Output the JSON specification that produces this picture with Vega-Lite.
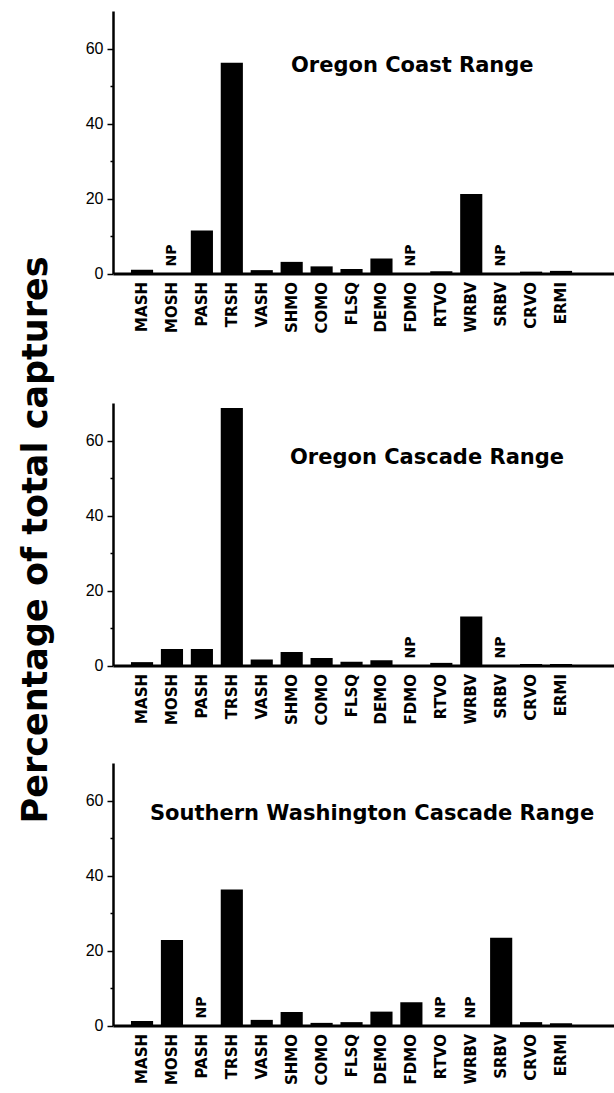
{
  "$schema": "https://vega.github.io/schema/vega-lite/v6.json",
  "padding": {"left": 19, "top": 11, "right": 0, "bottom": 5},
  "background": "white",
  "title": {"text": "Percentage of total captures", "orient": "left", "anchor": "middle", "font": "DejaVu Sans", "fontSize": 35, "fontWeight": "bold", "color": "black", "offset": 31, "dx": 8},
  "datasets": {
    "captures": [
      {"region": "Oregon Coast Range", "species": "MASH", "value": 1.0, "status": ""},
      {"region": "Oregon Coast Range", "species": "MOSH", "value": null, "status": "NP"},
      {"region": "Oregon Coast Range", "species": "PASH", "value": 11.5, "status": ""},
      {"region": "Oregon Coast Range", "species": "TRSH", "value": 56.2, "status": ""},
      {"region": "Oregon Coast Range", "species": "VASH", "value": 0.9, "status": ""},
      {"region": "Oregon Coast Range", "species": "SHMO", "value": 3.1, "status": ""},
      {"region": "Oregon Coast Range", "species": "COMO", "value": 1.9, "status": ""},
      {"region": "Oregon Coast Range", "species": "FLSQ", "value": 1.2, "status": ""},
      {"region": "Oregon Coast Range", "species": "DEMO", "value": 4.0, "status": ""},
      {"region": "Oregon Coast Range", "species": "FDMO", "value": null, "status": "NP"},
      {"region": "Oregon Coast Range", "species": "RTVO", "value": 0.6, "status": ""},
      {"region": "Oregon Coast Range", "species": "WRBV", "value": 21.2, "status": ""},
      {"region": "Oregon Coast Range", "species": "SRBV", "value": null, "status": "NP"},
      {"region": "Oregon Coast Range", "species": "CRVO", "value": 0.5, "status": ""},
      {"region": "Oregon Coast Range", "species": "ERMI", "value": 0.7, "status": ""},
      {"region": "Oregon Cascade Range", "species": "MASH", "value": 0.9, "status": ""},
      {"region": "Oregon Cascade Range", "species": "MOSH", "value": 4.4, "status": ""},
      {"region": "Oregon Cascade Range", "species": "PASH", "value": 4.4, "status": ""},
      {"region": "Oregon Cascade Range", "species": "TRSH", "value": 68.7, "status": ""},
      {"region": "Oregon Cascade Range", "species": "VASH", "value": 1.6, "status": ""},
      {"region": "Oregon Cascade Range", "species": "SHMO", "value": 3.6, "status": ""},
      {"region": "Oregon Cascade Range", "species": "COMO", "value": 2.0, "status": ""},
      {"region": "Oregon Cascade Range", "species": "FLSQ", "value": 1.0, "status": ""},
      {"region": "Oregon Cascade Range", "species": "DEMO", "value": 1.4, "status": ""},
      {"region": "Oregon Cascade Range", "species": "FDMO", "value": null, "status": "NP"},
      {"region": "Oregon Cascade Range", "species": "RTVO", "value": 0.7, "status": ""},
      {"region": "Oregon Cascade Range", "species": "WRBV", "value": 13.1, "status": ""},
      {"region": "Oregon Cascade Range", "species": "SRBV", "value": null, "status": "NP"},
      {"region": "Oregon Cascade Range", "species": "CRVO", "value": 0.4, "status": ""},
      {"region": "Oregon Cascade Range", "species": "ERMI", "value": 0.4, "status": ""},
      {"region": "Southern Washington Cascade Range", "species": "MASH", "value": 1.2, "status": ""},
      {"region": "Southern Washington Cascade Range", "species": "MOSH", "value": 22.8, "status": ""},
      {"region": "Southern Washington Cascade Range", "species": "PASH", "value": null, "status": "NP"},
      {"region": "Southern Washington Cascade Range", "species": "TRSH", "value": 36.3, "status": ""},
      {"region": "Southern Washington Cascade Range", "species": "VASH", "value": 1.5, "status": ""},
      {"region": "Southern Washington Cascade Range", "species": "SHMO", "value": 3.6, "status": ""},
      {"region": "Southern Washington Cascade Range", "species": "COMO", "value": 0.7, "status": ""},
      {"region": "Southern Washington Cascade Range", "species": "FLSQ", "value": 0.9, "status": ""},
      {"region": "Southern Washington Cascade Range", "species": "DEMO", "value": 3.7, "status": ""},
      {"region": "Southern Washington Cascade Range", "species": "FDMO", "value": 6.2, "status": ""},
      {"region": "Southern Washington Cascade Range", "species": "RTVO", "value": null, "status": "NP"},
      {"region": "Southern Washington Cascade Range", "species": "WRBV", "value": null, "status": "NP"},
      {"region": "Southern Washington Cascade Range", "species": "SRBV", "value": 23.4, "status": ""},
      {"region": "Southern Washington Cascade Range", "species": "CRVO", "value": 0.9, "status": ""},
      {"region": "Southern Washington Cascade Range", "species": "ERMI", "value": 0.6, "status": ""}
    ]
  },
  "spacing": 129,
  "bounds": "flush",
  "vconcat": [
    {
      "title": {"text": "Oregon Coast Range", "frame": "group", "anchor": "start", "dx": 178, "offset": -65, "baseline": "top", "font": "DejaVu Sans", "fontSize": 21, "fontWeight": "bold", "color": "black"},
      "width": 501, "height": 262.5,
      "data": {"name": "captures"},
      "transform": [{"filter": "datum.region === 'Oregon Coast Range'"}],
      "layer": [
        {"mark": {"type": "bar", "color": "black"},
         "encoding": {
           "x": {"field": "species", "type": "nominal", "sort": null,
                 "scale": {"domain": ["MASH","MOSH","PASH","TRSH","VASH","SHMO","COMO","FLSQ","DEMO","FDMO","RTVO","WRBV","SRBV","CRVO","ERMI"], "paddingInner": 0.26, "paddingOuter": 2.61, "align": 0.3},
                 "axis": {"title": null, "labelAngle": -90, "ticks": false, "labelPadding": 8, "labelFont": "DejaVu Sans", "labelFontWeight": "bold", "labelFontSize": 15, "labelColor": "black", "domainWidth": 3, "domainColor": "black"}},
           "y": {"field": "value", "type": "quantitative", "scale": {"domain": [0, 70], "nice": false},
                 "axis": {"title": null, "grid": false, "values": [0,10,20,30,40,50,60], "labelExpr": "datum.value % 20 === 0 ? datum.label : ''", "tickSize": {"condition": {"test": "datum.value % 20 !== 0", "value": 3}, "value": 6}, "tickWidth": 1.5, "tickColor": "black", "labelPadding": 4, "labelFont": "Liberation Sans", "labelFontSize": 16, "labelColor": "black", "domainWidth": 2.5, "domainColor": "black"}}
         }},
        {"transform": [{"filter": "datum.status === 'NP'"}],
         "mark": {"type": "text", "angle": 270, "align": "left", "baseline": "middle", "dx": 7, "font": "DejaVu Sans", "fontWeight": "bold", "fontSize": 14, "color": "black"},
         "encoding": {"x": {"field": "species", "type": "nominal"}, "y": {"datum": 0}, "text": {"field": "status"}}}
      ]
    },
    {
      "spacing": 97,
      "bounds": "flush",
      "vconcat": [
        {
          "title": {"text": "Oregon Cascade Range", "frame": "group", "anchor": "start", "dx": 177, "offset": -65, "baseline": "top", "font": "DejaVu Sans", "fontSize": 21, "fontWeight": "bold", "color": "black"},
          "width": 501, "height": 262.5,
          "data": {"name": "captures"},
          "transform": [{"filter": "datum.region === 'Oregon Cascade Range'"}],
          "layer": [
            {"mark": {"type": "bar", "color": "black"},
             "encoding": {
               "x": {"field": "species", "type": "nominal", "sort": null,
                     "scale": {"domain": ["MASH","MOSH","PASH","TRSH","VASH","SHMO","COMO","FLSQ","DEMO","FDMO","RTVO","WRBV","SRBV","CRVO","ERMI"], "paddingInner": 0.26, "paddingOuter": 2.61, "align": 0.3},
                     "axis": {"title": null, "labelAngle": -90, "ticks": false, "labelPadding": 8, "labelFont": "DejaVu Sans", "labelFontWeight": "bold", "labelFontSize": 15, "labelColor": "black", "domainWidth": 3, "domainColor": "black"}},
               "y": {"field": "value", "type": "quantitative", "scale": {"domain": [0, 70], "nice": false},
                     "axis": {"title": null, "grid": false, "values": [0,10,20,30,40,50,60], "labelExpr": "datum.value % 20 === 0 ? datum.label : ''", "tickSize": {"condition": {"test": "datum.value % 20 !== 0", "value": 3}, "value": 6}, "tickWidth": 1.5, "tickColor": "black", "labelPadding": 4, "labelFont": "Liberation Sans", "labelFontSize": 16, "labelColor": "black", "domainWidth": 2.5, "domainColor": "black"}}
             }},
            {"transform": [{"filter": "datum.status === 'NP'"}],
             "mark": {"type": "text", "angle": 270, "align": "left", "baseline": "middle", "dx": 7, "font": "DejaVu Sans", "fontWeight": "bold", "fontSize": 14, "color": "black"},
             "encoding": {"x": {"field": "species", "type": "nominal"}, "y": {"datum": 0}, "text": {"field": "status"}}}
          ]
        },
        {
          "title": {"text": "Southern Washington Cascade Range", "frame": "group", "anchor": "start", "dx": 37, "offset": -61, "baseline": "top", "font": "DejaVu Sans", "fontSize": 21, "fontWeight": "bold", "color": "black"},
          "width": 501, "height": 262.5,
          "data": {"name": "captures"},
          "transform": [{"filter": "datum.region === 'Southern Washington Cascade Range'"}],
          "layer": [
            {"mark": {"type": "bar", "color": "black"},
             "encoding": {
               "x": {"field": "species", "type": "nominal", "sort": null,
                     "scale": {"domain": ["MASH","MOSH","PASH","TRSH","VASH","SHMO","COMO","FLSQ","DEMO","FDMO","RTVO","WRBV","SRBV","CRVO","ERMI"], "paddingInner": 0.26, "paddingOuter": 2.61, "align": 0.3},
                     "axis": {"title": null, "labelAngle": -90, "ticks": false, "labelPadding": 8, "labelFont": "DejaVu Sans", "labelFontWeight": "bold", "labelFontSize": 15, "labelColor": "black", "domainWidth": 3, "domainColor": "black"}},
               "y": {"field": "value", "type": "quantitative", "scale": {"domain": [0, 70], "nice": false},
                     "axis": {"title": null, "grid": false, "values": [0,10,20,30,40,50,60], "labelExpr": "datum.value % 20 === 0 ? datum.label : ''", "tickSize": {"condition": {"test": "datum.value % 20 !== 0", "value": 3}, "value": 6}, "tickWidth": 1.5, "tickColor": "black", "labelPadding": 4, "labelFont": "Liberation Sans", "labelFontSize": 16, "labelColor": "black", "domainWidth": 2.5, "domainColor": "black"}}
             }},
            {"transform": [{"filter": "datum.status === 'NP'"}],
             "mark": {"type": "text", "angle": 270, "align": "left", "baseline": "middle", "dx": 7, "font": "DejaVu Sans", "fontWeight": "bold", "fontSize": 14, "color": "black"},
             "encoding": {"x": {"field": "species", "type": "nominal"}, "y": {"datum": 0}, "text": {"field": "status"}}}
          ]
        }
      ]
    }
  ],
  "config": {"view": {"stroke": null}}
}
